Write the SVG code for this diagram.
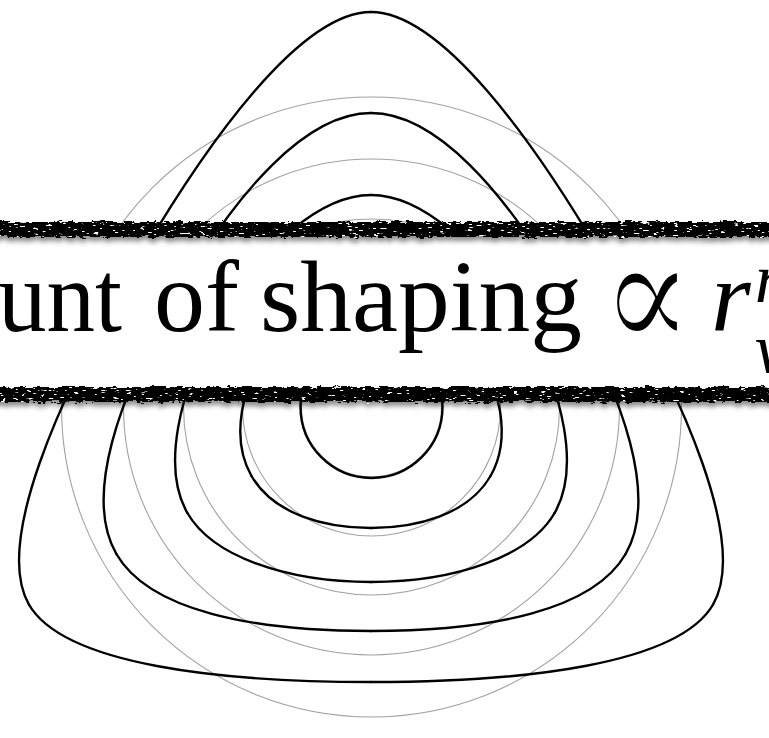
<svg xmlns="http://www.w3.org/2000/svg" width="769" height="738" viewBox="0 0 769 738">
<style>
 .grid{fill:none;stroke:#a2a2a2;stroke-width:1.1}
 .shape{fill:none;stroke:#000;stroke-width:2.4;stroke-linecap:round;stroke-linejoin:round}
 .t{font-family:"Liberation Serif","Times New Roman",serif;font-size:102px;fill:#000}
</style>
<defs>
 <path id="h1" d="M0,-395 C70,-395 163.16,-267.4 238.16,-137.5"/>
 <path id="h2" d="M0,-294 C65,-294 133.99,-215.92 193.99,-112"/>
 <path id="h3" d="M0,-212 C50,-212 109.06,-161.11 151.56,-87.5"/>
 <path id="h4" d="M0,-138 C45,-138 82.29,-99.47 104.79,-60.5"/>
 <filter id="rough" filterUnits="userSpaceOnUse" x="-40" y="195" width="850" height="240" color-interpolation-filters="sRGB">
  <feTurbulence type="fractalNoise" baseFrequency="0.12 0.35" numOctaves="3" seed="4" result="n1"/>
  <feDisplacementMap in="SourceGraphic" in2="n1" scale="7" xChannelSelector="R" yChannelSelector="G" result="band"/>
  <feTurbulence type="fractalNoise" baseFrequency="0.15 0.6" numOctaves="2" seed="9" result="n2"/>
  <feColorMatrix in="n2" type="matrix" values="0 0 0 0 1  0 0 0 0 1  0 0 0 0 1  16 0 0 0 -10.6" result="spots"/>
  <feComposite in="spots" in2="band" operator="atop"/>
 </filter>
 <filter id="shadow" filterUnits="userSpaceOnUse" x="-40" y="195" width="850" height="250">
  <feDropShadow dx="0" dy="4" stdDeviation="2.5" flood-color="#000" flood-opacity="0.45"/>
 </filter>
</defs>
<rect width="769" height="738" fill="#fff"/>
<g id="circles" class="grid">
 <circle cx="371.5" cy="407" r="70"/>
 <circle cx="371.5" cy="407" r="129"/>
 <circle cx="371.5" cy="407" r="188"/>
 <circle cx="371.5" cy="407" r="248"/>
 <circle cx="371.5" cy="407" r="310"/>
</g>
<g id="shapes" class="shape">
 <g id="shape1" transform="translate(371 407)">
  <use href="#h1"/><use href="#h1" transform="scale(-1 1)"/>
  <use href="#h1" transform="rotate(120)"/><use href="#h1" transform="rotate(120) scale(-1 1)"/>
  <use href="#h1" transform="rotate(240)"/><use href="#h1" transform="rotate(240) scale(-1 1)"/>
 </g>
 <g id="shape2" transform="translate(371 407)">
  <use href="#h2"/><use href="#h2" transform="scale(-1 1)"/>
  <use href="#h2" transform="rotate(120)"/><use href="#h2" transform="rotate(120) scale(-1 1)"/>
  <use href="#h2" transform="rotate(240)"/><use href="#h2" transform="rotate(240) scale(-1 1)"/>
 </g>
 <g id="shape3" transform="translate(371 407)">
  <use href="#h3"/><use href="#h3" transform="scale(-1 1)"/>
  <use href="#h3" transform="rotate(120)"/><use href="#h3" transform="rotate(120) scale(-1 1)"/>
  <use href="#h3" transform="rotate(240)"/><use href="#h3" transform="rotate(240) scale(-1 1)"/>
 </g>
 <g id="shape4" transform="translate(371 407)">
  <use href="#h4"/><use href="#h4" transform="scale(-1 1)"/>
  <use href="#h4" transform="rotate(120)"/><use href="#h4" transform="rotate(120) scale(-1 1)"/>
  <use href="#h4" transform="rotate(240)"/><use href="#h4" transform="rotate(240) scale(-1 1)"/>
 </g>
 <g id="shape5">
  <circle cx="371.5" cy="407" r="71"/>
 </g>
</g>
<g id="banner">
 <rect x="0" y="229" width="769" height="164" fill="#fff"/>
 <g filter="url(#shadow)">
  <g filter="url(#rough)">
   <rect x="-30" y="222" width="829" height="15" fill="#000"/>
   <rect x="-30" y="387" width="829" height="15" fill="#000"/>
  </g>
 </g>
 <g id="label">
  <text class="t" x="-2" y="331" textLength="124" lengthAdjust="spacingAndGlyphs">unt</text>
  <text class="t" x="154" y="331">of</text>
  <text class="t" x="260" y="331" textLength="322" lengthAdjust="spacingAndGlyphs">shaping</text>
  <text transform="translate(601 350) scale(1.7 2)" font-family="DejaVu Serif, serif" font-size="80" fill="#000" stroke="#fff" stroke-width="1.7" paint-order="fill stroke">∝</text>
  <text class="t" x="711" y="331" font-style="italic">r</text>
  <text class="t" x="755" y="302" font-style="italic" style="font-size:70px">n</text>
  <text class="t" x="755" y="372" font-style="italic" style="font-size:70px">v</text>
 </g>
</g>
</svg>
